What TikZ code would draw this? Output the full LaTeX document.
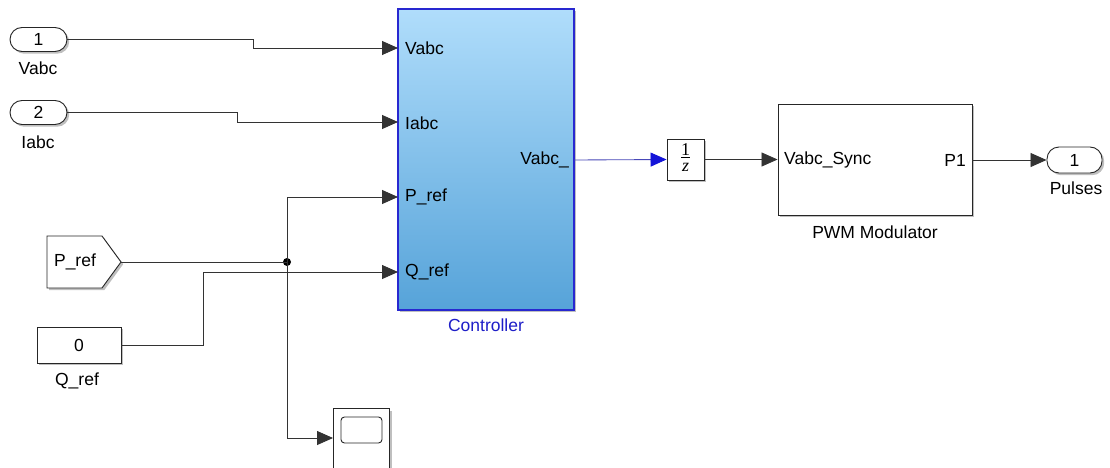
\documentclass[tikz,border=0pt]{standalone}
\usepackage{fontspec}
\setmainfont{Liberation Sans}
\newfontfamily\serifz{Liberation Serif}
\usetikzlibrary{arrows.meta,shadows}
\definecolor{ctrlTop}{HTML}{B0DDFB}
\definecolor{ctrlBot}{HTML}{56A3D9}
\definecolor{ctrlBorder}{HTML}{2828D0}
\definecolor{sigBlue}{HTML}{4848B8}
\definecolor{tipBlue}{HTML}{1414D8}
\definecolor{lblBlue}{HTML}{1E1EC8}
\begin{document}
\begin{tikzpicture}[x=1pt,y=-1pt,
  font=\fontsize{17.5}{20}\selectfont,
  shd/.style={drop shadow={shadow xshift=2.2pt,shadow yshift=-2.2pt,opacity=0.25,fill=black}},
  blk/.style={draw=black!85,line width=0.9pt,fill=white,inner sep=0pt,shd},
  pill/.style={blk,rounded corners=12pt},
  wire/.style={draw=black!80,line width=0.85pt},
  arr/.style={wire,-{Triangle[length=16pt,width=14pt]}},
  barr/.style={draw=sigBlue,line width=0.85pt,-{Triangle[length=16pt,width=14pt,fill=tipBlue,color=tipBlue]}},
  txt/.style={inner sep=0pt}
]
\useasboundingbox (0,0) rectangle (1110,468);
\fill[white] (0,0) rectangle (1110,468);

% inports
\node[pill,minimum width=57pt,minimum height=24pt] (in1) at (38.5,39.5) {1};
\node[txt] (in1l) at (38,68) {Vabc};
\node[pill,minimum width=57pt,minimum height=24pt] (in2) at (38.5,112.5) {2};
\node[txt] (in2l) at (38,142) {Iabc};

% controller
\node[draw=ctrlBorder,line width=1.3pt,top color=ctrlTop,bottom color=ctrlBot,
      minimum width=176pt,minimum height=301pt,inner sep=0pt,shd] (ctrl) at (486,159.5) {};
\node[txt,text=lblBlue] (ctrll) at (486,325) {Controller};
\coordinate (cV) at (398,48);
\coordinate (cI) at (398,122);
\coordinate (cP) at (398,197);
\coordinate (cQ) at (398,272);
\coordinate (cO) at (574,160);
\node[txt,anchor=west] (pV) at (405,48) {Vabc};
\node[txt,anchor=west] (pI) at (405,123) {Iabc};
\node[txt,anchor=west] (pP) at (405,197) {P\_ref};
\node[txt,anchor=west] (pQ) at (405,272) {Q\_ref};
\node[txt,anchor=east] (pO) at (569,160) {Vabc\_};

% unit delay
\node[blk,minimum width=37pt,minimum height=41pt] (dly) at (685.5,159.5) {};
\node[txt,font=\serifz\fontsize{18}{19}\selectfont] (dlyt) at (685.5,159.5)
  {\setlength{\arrayrulewidth}{0.8pt}\begin{tabular}{@{}c@{}}1\\[-4pt]\hline\rule{0pt}{12pt}\textit{z}\end{tabular}};

% PWM
\node[blk,minimum width=194pt,minimum height=111pt] (pwm) at (875,159.5) {};
\node[txt,anchor=west] (pwmi) at (784,160) {Vabc\_Sync};
\node[txt,anchor=east] (pwmo) at (966,160) {P1};
\node[txt] (pwml) at (875,232) {PWM Modulator};

% outport
\node[pill,minimum width=55pt,minimum height=26pt] (out1) at (1074.5,160) {1};
\node[txt] (out1l) at (1076,188) {Pulses};

% P_ref from block
\draw[blk] (47,236) -- (102,236) -- (121,262) -- (102,288) -- (47,288) -- cycle;
\coordinate (prefo) at (121,262);
\node[txt] (preft) at (75,262) {P\_ref};

% constant
\node[blk,minimum width=84pt,minimum height=36pt] (cst) at (79,345) {0};
\node[txt] (cstl) at (77,381) {Q\_ref};

% scope
\node[blk,minimum width=56pt,minimum height=70pt,anchor=north west] (scp) at (333,408) {};
\draw[draw=black!85,line width=0.9pt,rounded corners=3.5pt] (341,417) rectangle (382,443);
\coordinate (scpin) at (333,438);

% branch dot
\node[circle,fill=black,inner sep=0pt,minimum size=8pt] (dot) at (287,262) {};

% wires
\draw[arr] (in1.east) -- (253,39.5) -- (253,48) -- (cV);
\draw[arr] (in2.east) -- (237,112.5) -- (237,122) -- (cI);
\draw[wire] (prefo) -- (dot.center);
\draw[arr] (dot.center) -- (287,197) -- (cP);
\draw[arr] (dot.center) -- (287,438) -- (scpin);
\draw[arr] (cst.east) -- (203,345) -- (203,272) -- (cQ);
\draw[barr] (cO) -- (dly.west);
\draw[arr] (dly.east) -- (pwm.west |- dly.east);
\draw[arr] (pwm.east |- out1.west) -- (out1.west);
\end{tikzpicture}
\end{document}
